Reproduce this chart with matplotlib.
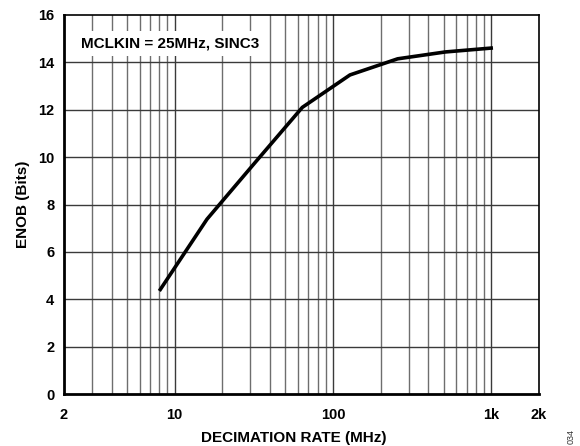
import matplotlib
matplotlib.use("Agg")
import matplotlib.pyplot as plt
from matplotlib.ticker import FixedLocator, NullLocator

plt.rcParams['font.family'] = ['Liberation Sans', 'DejaVu Sans']

# ENOB versus decimation rate, MCLKIN = 25 MHz, SINC3 filter
decimation = [8, 16, 32, 64, 128, 256, 512, 1024]
enob = [4.35, 7.38, 9.75, 12.1, 13.47, 14.15, 14.44, 14.61]

x_ticks = [2, 10, 100, 1000, 2000]
x_tick_labels = ["2", "10", "100", "1k", "2k"]
y_ticks = [0, 2, 4, 6, 8, 10, 12, 14, 16]

W, H = 580, 446
fig = plt.figure(figsize=(W / 100, H / 100), dpi=100)
ax = fig.add_axes([64 / W, 1 - 394 / H, 475 / W, 379 / H])

ax.set_xscale('log')
ax.set_xlim(2, 2000)
ax.set_ylim(0, 16)

# grid lines on every decade subdivision
minor = []
for dec in [1, 10, 100, 1000]:
    for m in range(2, 10):
        v = m * dec
        if 2 < v < 2000 and v not in (10, 100, 1000):
            minor.append(v)
for v in minor:
    ax.axvline(v, color='#6e6e6e', lw=1.0, zorder=1)
for v in [10, 100, 1000]:
    ax.axvline(v, color='#3a3a3a', lw=1.0, zorder=1)
for v in y_ticks[1:-1]:
    ax.axhline(v, color='#3a3a3a', lw=1.0, zorder=1)

ax.plot(decimation, enob, color='black', lw=2.6, zorder=3, solid_capstyle='butt')

ax.xaxis.set_major_locator(FixedLocator(x_ticks))
ax.xaxis.set_minor_locator(NullLocator())
ax.set_xticklabels(x_tick_labels)
ax.set_yticks(y_ticks)
ax.tick_params(axis='x', length=0, labelsize=10.5, pad=10)
ax.tick_params(axis='y', length=0, labelsize=10.5, pad=7)
for lbl in ax.get_xticklabels() + ax.get_yticklabels():
    lbl.set_fontweight('bold')

for s in ax.spines.values():
    s.set_linewidth(1.2)
    s.set_color('black')
ax.spines['bottom'].set_linewidth(2.0)
ax.spines['left'].set_linewidth(2.0)

ax.text(0.036, 0.925, "MCLKIN = 25MHz, SINC3", transform=ax.transAxes,
        fontsize=11, fontweight='bold', va='center', ha='left', zorder=4,
        bbox=dict(facecolor='white', edgecolor='none', pad=4))

fig.text(294 / W, 1 - 438 / H, "DECIMATION RATE (MHz)", fontsize=11,
         fontweight='bold', ha='center', va='center')
fig.text(23 / W, 1 - 204 / H, "ENOB (Bits)", fontsize=11, fontweight='bold',
         rotation=90, ha='center', va='center')

fig.text(571 / W, 1 - 437 / H, "034", rotation=90, fontsize=6.5,
         ha='center', va='center', color='#333333')

fig.savefig("out.png", dpi=100)
